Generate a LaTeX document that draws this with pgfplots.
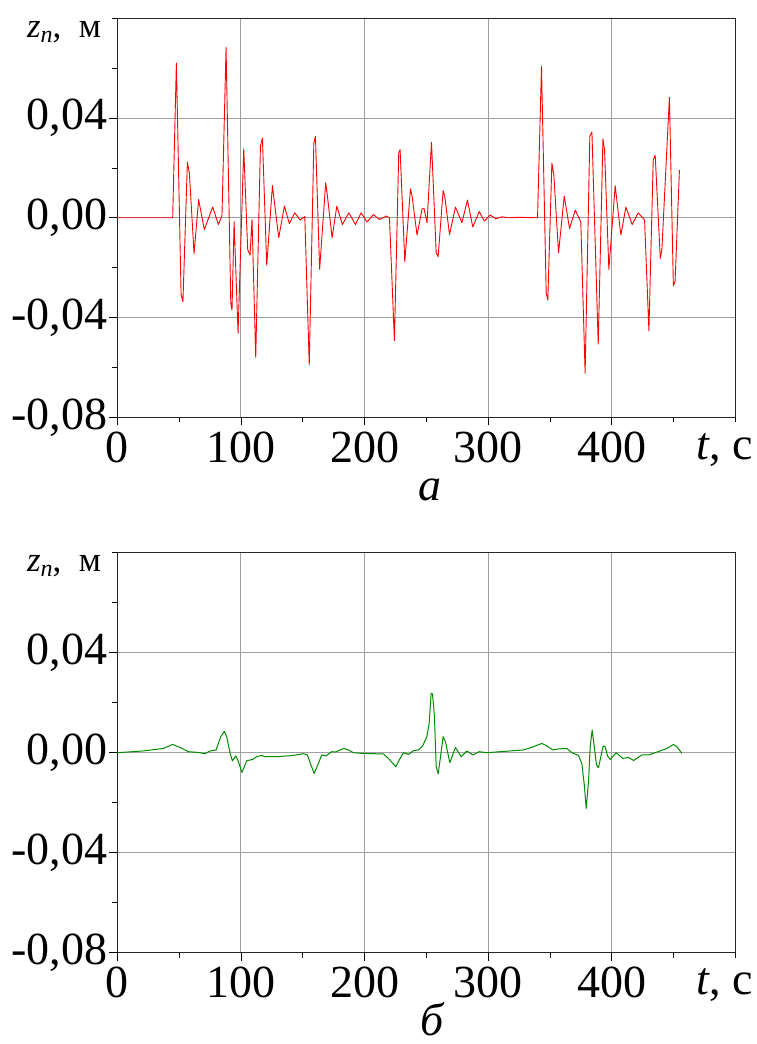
\documentclass[border=0pt]{standalone}
\usepackage{pgfplots}
\pgfplotsset{compat=1.18}
\usepackage{fontspec}
\setmainfont{Liberation Serif}
\begin{document}
\begin{tikzpicture}
\path[use as bounding box] (0pt,0pt) rectangle (756pt,1044pt);
\pgfplotsset{
 myax/.style={
  scale only axis, width=618pt, height=399pt,
  xmin=0,xmax=500,ymin=-0.08,ymax=0.08,
  scaled y ticks=false, scaled x ticks=false,
  xtick={0,100,200,300,400}, xticklabels={0,100,200,300,400},
  minor xtick={50,150,250,350,450,500},
  ytick={-0.08,-0.04,0,0.04}, yticklabels={{-0,08},{-0,04},{0,00},{0,04}},
  minor ytick={-0.06,-0.02,0.02,0.06,0.08},
  tick align=outside, tick pos=left,
  major tick length=8pt, minor tick length=5pt,
  grid=major, major grid style={gray!75, line width=1pt},
  every tick/.style={black, line width=0.8pt},
  axis line style={black!85, line width=1pt},
  ticklabel style={font=\fontsize{46}{50}\selectfont},
  xticklabel style={inner sep=2pt, yshift=-4pt},
  yticklabel style={inner sep=2pt},
  xlabel={\textit{t}, с},
  xlabel style={font=\fontsize{46}{50}\selectfont, at={(axis description cs:0.983,0)}, anchor=north, inner sep=2pt, yshift=-14pt},
  ylabel={\textit{z}\raisebox{-0.3ex}{\fontsize{24}{26}\selectfont\textit{n}}, \ м},
  ylabel style={font=\fontsize{35}{38}\selectfont, rotate=-90, at={(axis description cs:0,1)}, anchor=north east, inner sep=0pt, xshift=-16pt, yshift=-3pt},
 }}
\begin{axis}[myax, at={(117.3pt,626.7pt)}, anchor=south west]
\addplot[red, line width=0.9pt, line join=round] coordinates {
(0,0) (44.8,0) (47.8,0.062) (51.6,-0.0307) (53.1,-0.0337) (56.7,0.0224) (58.3,0.018)
(62.1,-0.0144) (65.8,0.0073) (70.4,-0.0047) (77.2,0.0043) (81.8,-0.0027) (84.7,0.001)
(88.0,0.0683) (91.8,-0.034) (92.8,-0.037) (94.5,-0.0016) (97.7,-0.0463) (102.3,0.0277)
(105.5,-0.0127) (107.4,-0.015) (109.0,-0.0007) (112.0,-0.056) (115.8,0.0287) (117.4,0.032)
(120.9,-0.019) (125.5,0.0129) (130.6,-0.008) (135.2,0.0047) (139.2,-0.0024) (143.6,0.002)
(147.9,-0.0009) (151.7,0.0005) (155.3,-0.059) (159.0,0.0298) (160.3,0.0327) (163.7,-0.0207)
(168.6,0.014) (170.0,0.0087) (173.8,-0.008) (177.6,0.0047) (182.1,-0.0027) (187.3,0.002)
(192.7,-0.0027) (197.3,0.002) (202.1,-0.0017) (207.2,0.0013) (212.1,-0.0007) (217.5,0.0007)
(220.2,0) (224.2,-0.0493) (227.7,0.026) (228.8,0.0273) (232.6,-0.0176) (237.2,0.0116)
(238.5,0.0087) (242.5,-0.0069) (246.6,0.0036) (248.2,0.0037) (250.6,-0.002) (254.2,0.0303)
(258.0,-0.014) (259.6,-0.0156) (263.6,0.0109) (264.9,0.0087) (268.8,-0.0067) (273.6,0.0043)
(278.8,-0.002) (283.3,0.0071) (287.6,-0.0037) (292.8,0.0025) (297.0,-0.0013) (301.7,0.0011)
(306.2,-0.0004) (311.1,0.0004) (316.5,0) (325,0.0002) (340.0,0) (343.2,0.0607) (347.0,-0.030)
(348.3,-0.033) (351.6,0.0219) (353.2,0.0171) (357.0,-0.014) (361.6,0.0087) (365.9,-0.0043)
(370.5,0.0031) (375.0,-0.0017) (378.5,-0.0624) (382.3,0.0327) (384.0,0.0344) (389.1,-0.0507)
(392.9,0.0316) (394.2,0.0273) (397.7,-0.0207) (402.8,0.0129) (407.4,-0.0069) (411.5,0.0043)
(416.6,-0.0027) (421.4,0.002) (426.6,-0.0009) (430.1,-0.0453) (433.6,0.0233) (435.2,0.0251)
(439.3,-0.0163) (440.6,-0.0127) (446.7,0.0483) (449.9,-0.0273) (451.3,-0.0253) (454.8,0.0191)
};
\end{axis}
\begin{axis}[myax, height=400pt, at={(117.3pt,91.3pt)}, anchor=south west]
\addplot[green!55!black, line width=1pt, line join=round] coordinates {
(0,0) (21,0.0007) (37.3,0.0017) (44.8,0.0033) (50.8,0.0021) (57.5,0.0004) (65.6,0.0001)
(71,-0.0004) (75,0.0007) (79.9,0.0011) (83.7,0.0064) (86.6,0.0085) (88.5,0.0064) (91.2,0)
(93.1,-0.0033) (95.8,-0.0013) (97.7,-0.0032) (100.9,-0.0079) (104.7,-0.0032) (109.6,-0.0027)
(112.8,-0.0016) (116.6,-0.0011) (119.6,-0.0016) (129,-0.0016) (142.5,-0.0011) (150.6,-0.0004)
(153.8,-0.0009) (156.2,-0.0043) (159.3,-0.0083) (162.7,-0.0043) (165.4,-0.0009) (168.9,-0.0013)
(173.5,0.0004) (176.8,0.0003) (183.2,0.0017) (187,0.0011) (191,0) (199.1,-0.0003)
(215.3,-0.0005) (219.4,-0.0023) (225.3,-0.0056) (228.8,-0.0023) (231.5,0) (235.6,-0.0007)
(239.6,0.0008) (243.6,0.0011) (247.1,0.0027) (250.4,0.0064) (252.3,0.0117) (253.9,0.0237)
(255,0.0235) (256.6,0.0144) (258,-0.0056) (259.6,-0.0085) (261.5,-0.0016) (263.6,0.0064)
(265.5,0.0044) (269,-0.004) (273.6,0.0021) (278.2,-0.0016) (282.8,0.0007) (287.6,-0.0009)
(292.8,0.0004) (299,0) (309.7,0.0004) (328.6,0.0011) (336.7,0.0024) (343.5,0.0037)
(347.5,0.0027) (352.4,0.0011) (356.9,0.0015) (363.7,0.0017) (367.8,0) (373.1,-0.0011)
(375.8,-0.0043) (377.7,-0.0123) (379.4,-0.0223) (381.3,-0.011) (382.6,0.0024) (384.2,0.0091)
(385.9,0.0024) (387.7,-0.0049) (389.3,-0.006) (391.2,-0.0016) (393.1,0.0027) (394.7,0.0024)
(396.6,-0.0013) (398.8,-0.0027) (403.6,0) (409,-0.0023) (413.6,-0.0019) (417.7,-0.0031)
(424.4,-0.0009) (429.8,-0.0009) (439.2,0.0007) (444.6,0.0017) (450,0.0033) (452.7,0.0024)
(456.8,-0.0003)
};
\end{axis}
\node[font=\fontsize{46}{50}\selectfont\itshape, anchor=base] at (430pt,543pt) {а};
\node[font=\fontsize{46}{50}\selectfont\itshape, anchor=base] at (432pt,9pt) {б};
\end{tikzpicture}
\end{document}
